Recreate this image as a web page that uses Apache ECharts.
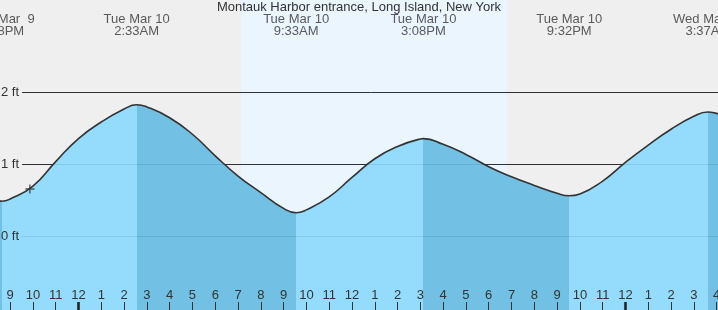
<!DOCTYPE html>
<html><head><meta charset="utf-8">
<script src="https://cdn.jsdelivr.net/npm/echarts@6/dist/echarts.min.js"></script>
<style>html,body{margin:0;padding:0;background:#efefef;overflow:hidden}#c{width:718px;height:310px}</style>
</head><body><div id="c"></div>
<script>
// ---------------- data ----------------
const chartTitle = 'Montauk Harbor entrance, Long Island, New York';
const tideTimes = [
  '03-09 20:33','03-09 20:38','03-09 21:00','03-09 22:00','03-09 23:00',
  '03-10 00:00','03-10 01:00','03-10 02:00','03-10 02:33','03-10 03:00','03-10 04:00',
  '03-10 05:00','03-10 06:00','03-10 07:00','03-10 08:00','03-10 09:00','03-10 09:33',
  '03-10 10:00','03-10 11:00','03-10 12:00','03-10 13:00','03-10 14:00','03-10 15:00',
  '03-10 15:08','03-10 16:00','03-10 17:00','03-10 18:00','03-10 19:00','03-10 20:00',
  '03-10 21:00','03-10 21:32','03-10 22:00','03-10 23:00','03-11 00:00','03-11 01:00',
  '03-11 02:00','03-11 03:00','03-11 03:37','03-11 04:00','03-11 04:10'
];
const tideHeights = [
  0.495, 0.49, 0.52, 0.70, 1.04,
  1.36, 1.59, 1.77, 1.83, 1.80, 1.65,
  1.42, 1.12, 0.84, 0.61, 0.39, 0.33,
  0.37, 0.55, 0.82, 1.08, 1.25, 1.355,
  1.36, 1.28, 1.14, 0.97, 0.83, 0.71,
  0.60, 0.565, 0.59, 0.77, 1.03, 1.27,
  1.49, 1.67, 1.73, 1.71, 1.69
];
const extremeTimes = ['03-09 20:38','03-10 02:33','03-10 09:33','03-10 15:08','03-10 21:32','03-11 03:37'];
const extremeKinds = ['L','H','L','H','L','H'];
const extremeDates = ['Mon Mar  9','Tue Mar 10','Tue Mar 10','Tue Mar 10','Tue Mar 10','Wed Mar 11'];
const extremeClock = ['8:38PM','2:33AM','9:33AM','3:08PM','9:32PM','3:37AM'];
const levelValues = [0, 1, 2];
const levelLabels = ['0 ft', '1 ft', '2 ft'];
const sunriseTime = '03-10 07:08';
const sunsetTime = '03-10 18:48';
const midnightTimes = ['03-10 00:00', '03-11 00:00'];
const nowTime = '03-09 21:52';
const nowHeight = 0.66;

// ---------------- helpers ----------------
function toH(s) { // hours relative to Mar 10 00:00
  const day = parseInt(s.slice(3, 5), 10);
  const hh = parseInt(s.slice(6, 8), 10);
  const mm = parseInt(s.slice(9, 11), 10);
  return (day - 10) * 24 + hh + mm / 60;
}
const FONT = '"Liberation Sans", Arial, sans-serif';
const TXT = '#333333';
const LIGHT = '#95dcfc', DARK = '#72c0e4';

// layout (pixels)
const W = 718, H = 310;
const midnightX = 78.5, pxPerHour = 22.79;
const zeroY = 236.5, pxPerFt = 72;
const xAxisMin = -4, xAxisMax = 29;
const yMax = zeroY / pxPerFt, yMin = -(H - zeroY) / pxPerFt;
const gridLeft = midnightX + xAxisMin * pxPerHour;
const gridRight = W - (midnightX + xAxisMax * pxPerHour);
const levelLineStart = (22 - midnightX) / pxPerHour;
const labelLevel = (zeroY - 25) / pxPerFt;

const tideData = tideTimes.map((t, i) => [toH(t), tideHeights[i]]);

// falling (dark) / rising (light) pieces
const bounds = [-1000].concat(extremeTimes.map(toH)).concat([1000]);
const pieces = [];
for (let i = 0; i < bounds.length - 1; i++) {
  const endKind = i < extremeKinds.length ? extremeKinds[i] : 'L';
  pieces.push({ gte: bounds[i], lt: bounds[i + 1], color: endKind === 'L' ? DARK : LIGHT });
}

const levelLines = (color, withLabel, z) => ({
  silent: true, symbol: ['none', 'none'], animation: false, z: z,
  lineStyle: { color: color, width: 1, type: 'solid' },
  label: withLabel ? { show: true, position: 'start', formatter: '{b}', distance: 3,
    color: TXT, fontSize: 13, fontFamily: FONT } : { show: false },
  emphasis: { disabled: true },
  data: levelValues.map((v, i) => [
    { coord: [levelLineStart, v], name: levelLabels[i] },
    { coord: [xAxisMax, v] }
  ])
});

const SMOOTH = 0.5;
const chart = echarts.init(document.getElementById('c'), null, { renderer: 'canvas' });
chart.setOption({
  animation: false,
  backgroundColor: '#efefef',
  title: {
    text: chartTitle, left: 'center', top: 1, padding: 0,
    textStyle: { fontSize: 13, fontWeight: 'normal', color: TXT, fontFamily: FONT }
  },
  grid: { left: gridLeft, right: gridRight, top: 0, bottom: 0, containLabel: false, outerBoundsMode: 'none' },
  xAxis: {
    type: 'value', min: xAxisMin, max: xAxisMax, interval: 1, z: 10,
    axisLine: { show: false, onZero: false }, splitLine: { show: false },
    axisTick: { inside: true, length: 8, lineStyle: { color: TXT, width: 1 } },
    axisLabel: {
      inside: true, margin: 8, fontSize: 13, color: TXT, fontFamily: FONT,
      formatter: v => { const m = ((v % 12) + 12) % 12; return String(m === 0 ? 12 : m); }
    }
  },
  yAxis: { type: 'value', min: yMin, max: yMax, show: false },
  visualMap: {
    type: 'piecewise', show: false, dimension: 0, seriesIndex: 2, pieces: pieces
  },
  series: [
    { // daylight band
      type: 'line', data: tideData, symbol: 'none', silent: true, z: 0,
      lineStyle: { opacity: 0 },
      markArea: {
        silent: true, z: 0, itemStyle: { color: '#ebf5fe' },
        data: [[{ xAxis: toH(sunriseTime) }, { xAxis: toH(sunsetTime) }]]
      }
    },
    { // level lines under water
      type: 'line', data: [], symbol: 'none', silent: true, z: 1,
      markLine: levelLines(TXT, false, 1)
    },
    { // water fill
      type: 'line', data: tideData, symbol: 'none', smooth: SMOOTH, silent: true, z: 2,
      lineStyle: { width: 0, opacity: 0 },
      areaStyle: { opacity: 1, origin: 'start' }
    },
    { // level lines visible through water + labels
      type: 'line', data: [], symbol: 'none', silent: true, z: 3,
      markLine: levelLines('rgba(0,40,80,0.10)', true, 3)
    },
    { // tide curve
      type: 'line', data: tideData, symbol: 'none', smooth: SMOOTH, silent: true, z: 4,
      lineStyle: { color: '#333', width: 1.6 }
    },
    { // midnight ticks
      type: 'scatter', z: 11, silent: true, clip: false,
      symbol: 'rect', symbolSize: [3, 8], symbolOffset: [0, -4],
      itemStyle: { color: '#222' },
      data: midnightTimes.map(t => [toH(t), yMin])
    },
    { // high / low labels
      type: 'scatter', z: 11, silent: true, clip: false, symbolSize: 0,
      data: extremeTimes.map(t => [toH(t), labelLevel]),
      label: {
        show: true, position: 'inside', lineHeight: 12, fontSize: 13, color: TXT, fontFamily: FONT, align: 'center',
        formatter: p => extremeDates[p.dataIndex] + '\n' + extremeClock[p.dataIndex]
      }
    },
    { // current time marker
      type: 'scatter', z: 12, silent: true,
      symbol: 'path://M0 5H10M5 0V10', symbolSize: 9,
      itemStyle: { color: 'rgba(0,0,0,0)', borderColor: '#333', borderWidth: 1.4 },
      data: [[toH(nowTime), nowHeight]]
    }
  ]
});
</script></body></html>
